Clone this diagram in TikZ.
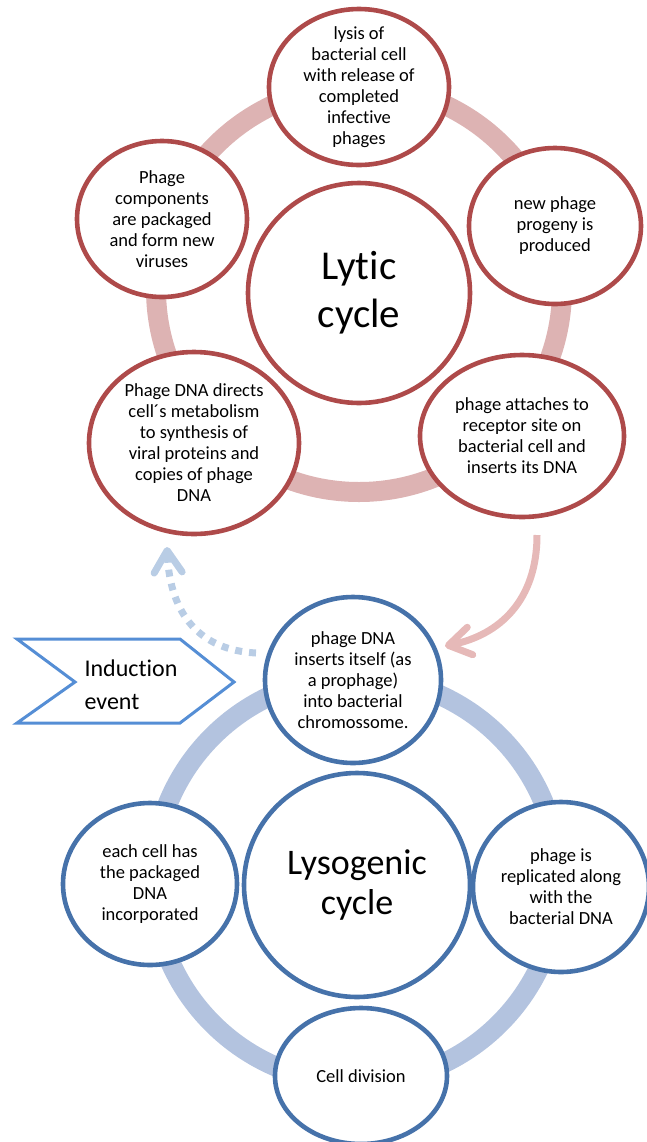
\documentclass[tikz,border=0pt]{standalone}
\usepackage{fontspec}
\setmainfont{Carlito}[Ligatures = NoCommon]
\usepackage{xcolor}
\definecolor{lyticRed}{HTML}{AE4A4A}
\definecolor{lyticPink}{HTML}{DDB3B3}
\definecolor{arrowPink}{HTML}{E6B9B8}
\definecolor{lysoBlue}{HTML}{4672AA}
\definecolor{lysoPale}{HTML}{B3C3DF}
\definecolor{inducePale}{HTML}{B9CDE5}
\definecolor{inductBlue}{HTML}{558ED5}
\usepackage{tikz}
\usetikzlibrary{arrows.meta}
\usetikzlibrary{shapes.geometric}
\tikzset{
	lyticstage/.style = {ellipse, draw = lyticRed, line width = 2.3pt, fill = white, inner sep = -8pt, align = center, font = \fontsize{9.25pt}{10.5pt}\selectfont},
	lysostage/.style = {lyticstage, draw = lysoBlue},
	cyclehub/.style = {lyticstage, font = \fontsize{20.5pt}{24pt}\selectfont},
	lyticband/.style = {draw = lyticPink, line width = 10pt},
	lysoband/.style = {draw = lysoPale, line width = 10pt},
	lysisarrow/.style = {draw = arrowPink, line width = 3.5pt, -{Straight Barb[length = 11pt, width = 14pt, round]}},
	inducearrow/.style = {draw = inducePale, line width = 3.5pt, dash pattern = on 3.5pt off 3.5pt, -{Straight Barb[length = 11pt, width = 14pt, round]}},
	inductbox/.style = {draw = inductBlue, line width = 1.5pt}
}

\begin{document}
\begin{tikzpicture}[x = 0.5pt, y = -0.5pt]
	\useasboundingbox (0, 0) rectangle (647, 1142);

	%% Lytic cycle
	\coordinate (lyticring) at (359, 289);
	\draw[lyticband] (lyticring) circle [radius = 101.5pt];

	\node[cyclehub, minimum width = 111pt, minimum height = 110pt] (lytic) at (359, 293) {Lytic\\cycle};

	\node[lyticstage, minimum width = 90pt, minimum height = 78pt] (lysis) at (359, 87) {lysis of\\bacterial cell\\with release of\\completed\\infective\\phages};
	\node[lyticstage, minimum width = 86pt, minimum height = 78pt] (progeny) at (555, 226) {new phage\\progeny is\\produced};
	\node[lyticstage, minimum width = 102pt, minimum height = 81pt] (attach) at (522, 436) {phage attaches to\\receptor site on\\bacterial cell and\\inserts its DNA};
	\node[lyticstage, minimum width = 105pt, minimum height = 91pt] (directs) at (194, 443) {Phage DNA directs\\cell´s metabolism\\to synthesis of\\viral proteins and\\copies of phage\\DNA};
	\node[lyticstage, minimum width = 85pt, minimum height = 78pt] (package) at (162, 219) {Phage\\components\\are packaged\\and form new\\viruses};

	%% Lysogenic cycle
	\coordinate (lysoring) at (356, 880);
	\draw[lysoband] (lysoring) circle [radius = 101.5pt];

	\node[cyclehub, draw = lysoBlue, font = \fontsize{18pt}{20pt}\selectfont, minimum width = 113pt, minimum height = 112pt] (lyso) at (357, 885) {Lysogenic\\cycle};

	\node[lysostage, minimum width = 88pt, minimum height = 83pt] (prophage) at (353, 680) {phage DNA\\inserts itself (as\\a prophage)\\into bacterial\\chromossome.};
	\node[lysostage, minimum width = 88pt, minimum height = 85pt] (replicate) at (561, 887) {phage is\\replicated along\\with the\\bacterial DNA};
	\node[lysostage, minimum width = 86pt, minimum height = 68pt] (division) at (361, 1076) {Cell division};
	\node[lysostage, minimum width = 87pt, minimum height = 81pt] (eachcell) at (150, 884) {each cell has\\the packaged\\DNA\\incorporated};

	%% Switching between the cycles
	\coordinate (lysisstart) at (537, 535);
	\coordinate (lysistip) at (445, 646);
	\draw[lysisarrow] (lysisstart) .. controls (537, 600) and (500, 635) .. (lysistip);

	\coordinate (inducestart) at (256, 653);
	\coordinate (inducetip) at (167, 547);
	\draw[inducearrow] (inducestart) .. controls (200, 650) and (170, 615) .. (inducetip);

	\node[align = left, font = \fontsize{12pt}{16.5pt}\selectfont] (induction) at (131, 685) {Induction\\event};
	\draw[inductbox] (17, 639) -- (180, 639) -- (234, 682) -- (180, 723) -- (17, 723) -- (75, 682) -- cycle;

\end{tikzpicture}
\end{document}
